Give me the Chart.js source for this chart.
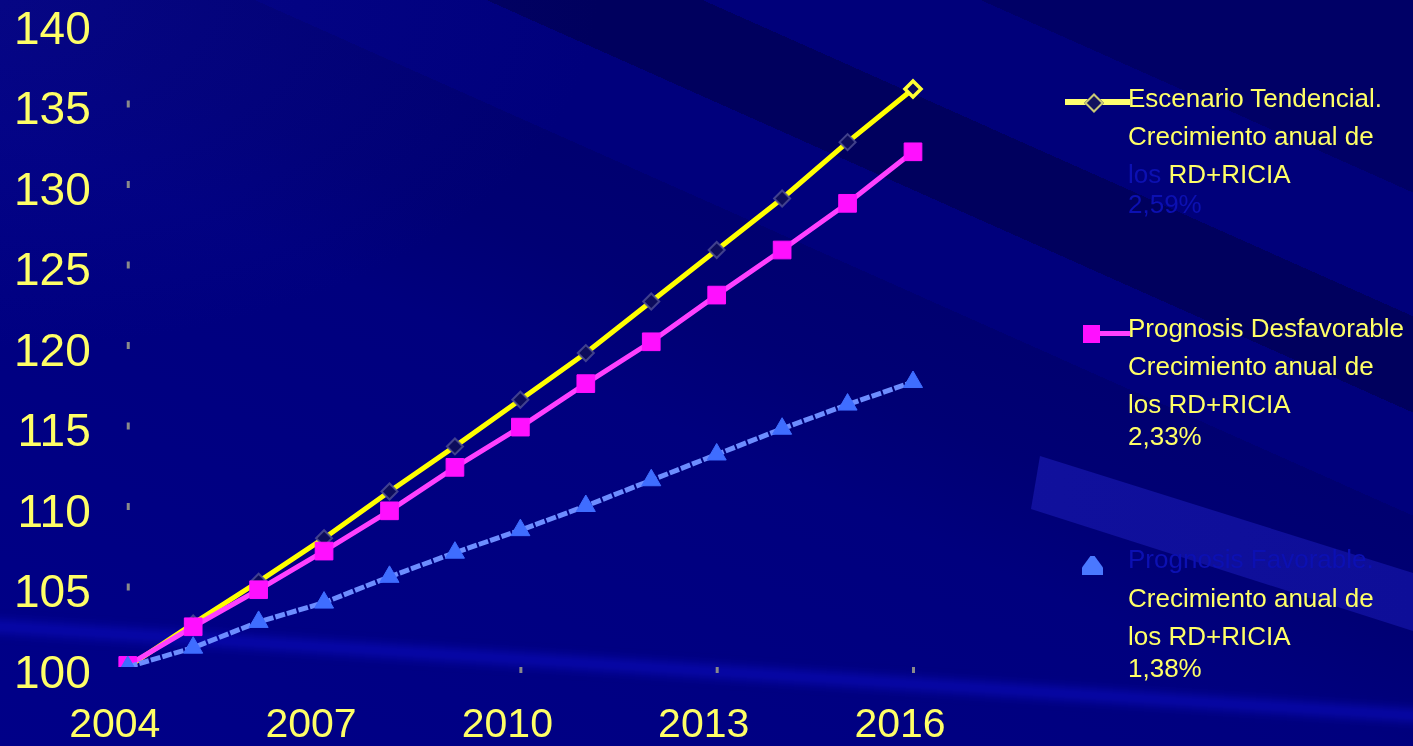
<!DOCTYPE html>
<html>
<head>
<meta charset="utf-8">
<script src="https://cdn.jsdelivr.net/npm/chart.js@4.4.1/dist/chart.umd.min.js"></script>
<style>
  html, body { margin: 0; padding: 0; }
  body {
    width: 1413px; height: 746px; overflow: hidden; position: relative;
    font-family: "Liberation Sans", Arial, sans-serif;
    background:
      radial-gradient(ellipse 600px 350px at 0px 0px, rgba(20,20,170,0.3), rgba(20,20,170,0) 100%),
      linear-gradient(204deg,
        #000066 0%, #000066 14%, #00007a 14%, #00007a 23%,
        #00005e 23%, #00005e 30%, #00007c 30%, #00007c 37.5%,
        #000070 37.5%, #000074 46%, #00007e 55%, #000088 100%);
  }
  .shape { position: absolute; }
  #rect-band {
    left: 0; top: 0; width: 1413px; height: 746px;
    clip-path: polygon(1040px 456px, 1413px 573px, 1413px 631px, 1031px 509px);
    background: linear-gradient(90deg, #1616a8, #0e0e98);
  }
  #low-band {
    left: -40px; top: 612px; width: 1500px; height: 24px;
    transform: rotate(3.6deg); transform-origin: 0 50%;
    background: linear-gradient(180deg, rgba(12,12,190,0), rgba(12,12,190,0.7) 50%, rgba(12,12,190,0));
    filter: blur(3px);
  }
  canvas { position: absolute; left: 0; top: 0; }
  .lg { position: absolute; left: 1128px; font-size: 26px; line-height: 26px; color: #ffff66; white-space: nowrap; }
  .dim { color: #0c10b2; }
</style>
</head>
<body>
<div class="shape" id="rect-band"></div>
<div class="shape" id="low-band"></div>
<canvas id="chart" width="1413" height="746"></canvas>

<!-- legend -->
<div class="shape" style="left:1065px;top:99px;width:65px;height:6px;background:#ffff70"></div>
<div class="shape" style="left:1087px;top:96px;width:10px;height:10px;background:#12125e;border:2px solid #c8c878;transform:rotate(45deg)"></div>
<div class="lg" style="top:85px">Escenario Tendencial.</div>
<div class="lg" style="top:123px">Crecimiento anual de</div>
<div class="lg" style="top:161px"><span class="dim">los</span> RD+RICIA</div>
<div class="lg dim" style="top:191px">2,59%</div>

<div class="shape" style="left:1100px;top:331px;width:30px;height:5px;background:#ff40ff"></div>
<div class="shape" style="left:1083px;top:325px;width:17px;height:18px;background:#ff10ff"></div>
<div class="lg" style="top:315px">Prognosis Desfavorable</div>
<div class="lg" style="top:353px">Crecimiento anual de</div>
<div class="lg" style="top:391px">los RD+RICIA</div>
<div class="lg" style="top:423px">2,33%</div>

<div class="shape" style="left:1082px;top:556px;width:21px;height:19px;background:#4a78ff;clip-path:polygon(40% 0,60% 0,100% 60%,100% 100%,0 100%,0 60%)"></div>
<div class="lg dim" style="top:546px">Prognosis Favorable.</div>
<div class="lg" style="top:585px">Crecimiento anual de</div>
<div class="lg" style="top:623px">los RD+RICIA</div>
<div class="lg" style="top:655px">1,38%</div>

<script>
// data
var years = ['2004', '2005', '2006', '2007', '2008', '2009', '2010', '2011', '2012', '2013', '2014', '2015', '2016']
var tendencial = [100, 102.7, 105.3, 108.0, 110.9, 113.7, 116.6, 119.5, 122.7, 125.9, 129.1, 132.6, 135.9]
var desfavorable = [100.1, 102.5, 104.8, 107.2, 109.7, 112.4, 114.9, 117.6, 120.2, 123.1, 125.9, 128.8, 132.0]
var favorable = [100, 101.2, 102.8, 104.0, 105.6, 107.1, 108.5, 110.0, 111.6, 113.2, 114.8, 116.3, 117.7]
var shownYears = ['2004', '2007', '2010', '2013', '2016']
var markYears = ['2010', '2013', '2016']
var markValues = [105, 110, 115, 120, 125, 130, 135]

const yellow = '#ffff66'
const fontFamily = '"Liberation Sans", Arial, sans-serif'

// little grey tick dots on both axes
const axisDots = {
  id: 'axisDots',
  beforeDatasetsDraw(chart) {
    const ctx = chart.ctx
    const x = chart.scales.x, y = chart.scales.y
    ctx.save()
    ctx.fillStyle = '#8a8a8a'
    for (const v of markValues) {
      ctx.fillRect(chart.chartArea.left - 1, y.getPixelForValue(v) - 3, 3, 7)
    }
    for (const yr of markYears) {
      ctx.fillRect(x.getPixelForValue(years.indexOf(yr)) - 1, chart.chartArea.bottom, 3, 6)
    }
    ctx.restore()
  }
}

new Chart(document.getElementById('chart'), {
  type: 'line',
  data: {
    labels: years,
    datasets: [
      {
        label: 'Escenario Tendencial',
        data: tendencial,
        order: 3,
        borderColor: '#ffff00',
        borderWidth: 5,
        tension: 0,
        pointStyle: 'rectRot',
        pointRadius: 8,
        pointBackgroundColor: '#0c0c5c',
        pointBorderColor: (c) => c.dataIndex === years.length - 1 ? '#ffff33' : 'rgba(80,80,150,0.8)',
        pointBorderWidth: (c) => c.dataIndex === years.length - 1 ? 3.5 : 2
      },
      {
        label: 'Prognosis Desfavorable',
        data: desfavorable,
        order: 2,
        borderColor: '#ff40ff',
        borderWidth: 5,
        tension: 0,
        pointStyle: 'rect',
        pointRadius: 12.5,
        pointBackgroundColor: '#ff10ff',
        pointBorderColor: '#ff10ff',
        pointBorderWidth: 1
      },
      {
        label: 'Prognosis Favorable',
        data: favorable,
        order: 1,
        borderColor: '#6d8dff',
        borderWidth: 5,
        borderDash: [10, 2],
        tension: 0,
        pointStyle: 'triangle',
        pointRadius: 11,
        pointBackgroundColor: '#3f6dff',
        pointBorderColor: '#3f6dff',
        pointBorderWidth: 1
      }
    ]
  },
  options: {
    responsive: false,
    animation: false,
    layout: { padding: { left: 14, right: 500, top: 0, bottom: 0 } },
    plugins: { legend: { display: false }, tooltip: { enabled: false } },
    scales: {
      x: {
        // invisible tick marks give the gap between axis and labels
        grid: { display: false, drawTicks: true, tickLength: 38 },
        border: { display: false },
        ticks: {
          autoSkip: false,
          maxRotation: 0,
          padding: 0,
          labelOffset: -13,
          color: yellow,
          font: { family: fontFamily, size: 41, lineHeight: 1 },
          callback: function (value) {
            var lbl = this.getLabelForValue(value)
            return shownYears.includes(lbl) ? lbl : ''
          }
        }
      },
      y: {
        min: 100,
        max: 140,
        grid: { display: false, drawTicks: true, tickLength: 37 },
        border: { display: false },
        ticks: {
          stepSize: 5,
          padding: 0,
          labelOffset: 8,
          color: yellow,
          font: { family: fontFamily, size: 46, lineHeight: 1 }
        }
      }
    }
  },
  plugins: [axisDots]
});
</script>
</body>
</html>
